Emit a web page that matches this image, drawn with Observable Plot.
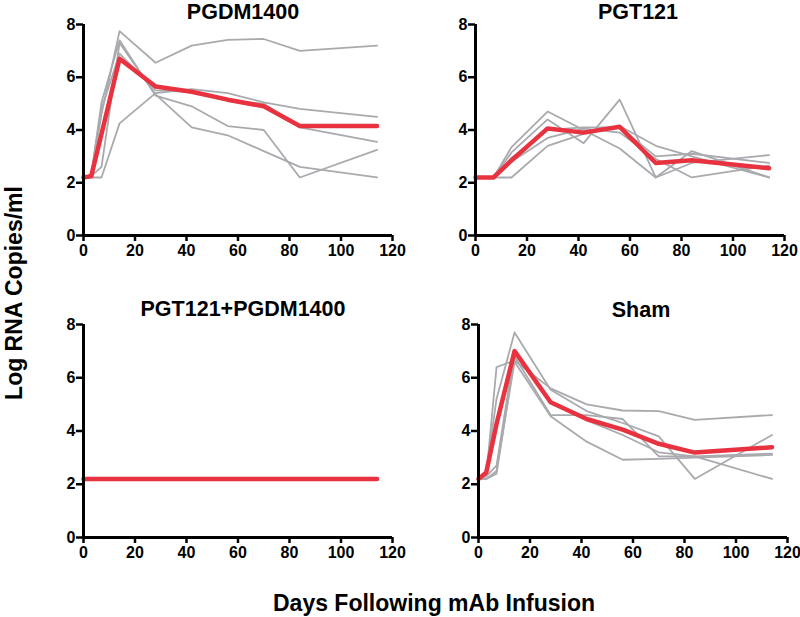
<!DOCTYPE html>
<html>
<head>
<meta charset="utf-8">
<script src="https://cdn.jsdelivr.net/npm/d3@7"></script>
<script src="https://cdn.jsdelivr.net/npm/@observablehq/plot@0.6"></script>
<style>
  html, body { margin: 0; padding: 0; background: #fff; }
  #fig { position: relative; width: 800px; height: 617px; overflow: hidden; font-family: "Liberation Sans", Arial, sans-serif; }
  .panel { position: absolute; }
  .title { position: absolute; font-weight: bold; font-size: 21.5px; line-height: normal; white-space: nowrap; transform: translateX(-50%); color: #000; }
  .axlab { position: absolute; font-weight: bold; font-size: 23px; line-height: normal; white-space: nowrap; transform: translateX(-50%); color: #000; }
  .ylab { position: absolute; font-weight: bold; font-size: 23px; line-height: normal; white-space: nowrap; transform: translate(-50%, -50%) rotate(-90deg); color: #000; }
</style>
</head>
<body>
<div id="fig"></div>
<script>
// ---- data ----
const days = [0, 3, 7, 14, 28, 42, 56, 70, 84, 114];
const xTicks = [0, 20, 40, 60, 80, 100, 120];
const yTicks = [0, 2, 4, 6, 8];
const panelTitles = ["PGDM1400", "PGT121", "PGT121+PGDM1400", "Sham"];
const xLabel = "Days Following mAb Infusion";
const yLabel = "Log RNA Copies/ml";

// PGDM1400
const pgdmA = [2.2, 2.2, 4.6, 7.75, 6.55, 7.2, 7.42, 7.45, 7.0, 7.2];
const pgdmB = [2.2, 2.2, 2.2, 4.25, 5.4, 5.55, 5.4, 5.05, 4.8, 4.5];
const pgdmC = [2.2, 2.3, 5.05, 7.4, 5.3, 4.9, 4.15, 4.0, 2.2, 3.25];
const pgdmD = [2.2, 2.25, 2.6, 7.3, 5.35, 4.1, 3.8, 3.2, 2.6, 2.2];
const pgdmE = [2.2, 2.3, 4.8, 6.9, 5.5, 5.45, 5.1, 5.0, 4.1, 3.55];
const pgdmMean = [2.2, 2.25, 3.85, 6.7, 5.65, 5.45, 5.15, 4.9, 4.15, 4.15];

// PGT121
const pgtA = [2.2, 2.2, 2.2, 3.35, 4.7, 4.0, 3.3, 2.2, 2.75, 3.05];
const pgtB = [2.2, 2.2, 2.2, 3.15, 4.4, 3.5, 5.15, 2.2, 3.2, 2.2];
const pgtC = [2.2, 2.2, 2.2, 2.95, 4.0, 4.1, 4.1, 3.0, 3.1, 2.75];
const pgtD = [2.2, 2.2, 2.2, 2.8, 3.7, 4.05, 3.9, 2.9, 2.2, 2.65];
const pgtE = [2.2, 2.2, 2.2, 2.2, 3.4, 3.85, 4.15, 3.4, 3.0, 2.2];
const pgtMean = [2.2, 2.2, 2.2, 2.85, 4.06, 3.9, 4.12, 2.75, 2.85, 2.55];

// PGT121+PGDM1400
const comboA = [2.2, 2.2, 2.2, 2.2, 2.2, 2.2, 2.2, 2.2, 2.2, 2.2];
const comboB = [2.2, 2.2, 2.2, 2.2, 2.2, 2.2, 2.2, 2.2, 2.2, 2.2];
const comboC = [2.2, 2.2, 2.2, 2.2, 2.2, 2.2, 2.2, 2.2, 2.2, 2.2];
const comboD = [2.2, 2.2, 2.2, 2.2, 2.2, 2.2, 2.2, 2.2, 2.2, 2.2];
const comboMean = [2.2, 2.2, 2.2, 2.2, 2.2, 2.2, 2.2, 2.2, 2.2, 2.2];

// Sham
const shamA = [2.2, 2.3, 6.4, 6.65, 5.6, 5.0, 4.77, 4.75, 4.42, 4.6];
const shamB = [2.2, 2.45, 5.2, 7.7, 5.55, 4.75, 4.3, 3.8, 2.2, 3.85];
const shamC = [2.2, 2.3, 2.7, 7.0, 5.1, 4.4, 3.85, 3.2, 3.05, 2.2];
const shamD = [2.2, 2.2, 2.4, 6.8, 4.6, 4.6, 4.45, 3.05, 3.05, 3.15];
const shamE = [2.2, 2.2, 2.5, 6.6, 4.55, 3.6, 2.92, 2.95, 3.0, 3.1];
const shamMean = [2.2, 2.44, 4.26, 7.0, 5.08, 4.45, 4.05, 3.52, 3.19, 3.39];

// ---- styling ----
const GRAY = "#a9aaae";
const RED = "#e8323f";

const panels = [
  {title: panelTitles[0], animals: [pgdmA, pgdmB, pgdmC, pgdmD, pgdmE], mean: pgdmMean,
   left: 0, top: 0, mt: 24, titleX: 243, titleTop: 0},
  {title: panelTitles[1], animals: [pgtA, pgtB, pgtC, pgtD, pgtE], mean: pgtMean,
   left: 392, top: 0, mt: 24, titleX: 638, titleTop: 0},
  {title: panelTitles[2], animals: [comboA, comboB, comboC, comboD], mean: comboMean,
   left: 0, top: 302, mt: 22, titleX: 243, titleTop: 297},
  {title: panelTitles[3], animals: [shamA, shamB, shamC, shamD, shamE], mean: shamMean,
   left: 395, top: 302, mt: 22, titleX: 641, titleTop: 297.5}
];

const fig = document.getElementById("fig");

function toRows(arr, id) {
  return days.map((d, i) => ({day: d, value: arr[i], id}));
}

for (const p of panels) {
  const grayRows = p.animals.flatMap((a, k) => toRows(a, k));
  const meanRows = toRows(p.mean, "mean");
  const chart = Plot.plot({
    width: 400,
    height: 262,
    marginLeft: 83,
    marginRight: 8,
    marginTop: p.mt,
    marginBottom: 27,
    x: {domain: [0, 120], ticks: xTicks},
    y: {domain: [0, 8], ticks: yTicks},
    style: {fontFamily: "'Liberation Sans', Arial, sans-serif", fontSize: "16px", fontWeight: "bold", color: "#000", background: "transparent", overflow: "visible"},
    marks: [
      Plot.axisX({ticks: xTicks, tickSize: 6, tickPadding: 3, strokeWidth: 2.5, label: null, fontSize: 16, fontWeight: "bold"}),
      Plot.axisY({ticks: yTicks, tickSize: 7, tickPadding: 1, strokeWidth: 2.5, label: null, fontSize: 16, fontWeight: "bold"}),
      Plot.line(grayRows, {x: "day", y: "value", z: "id", stroke: GRAY, strokeWidth: 1.8}),
      Plot.line(meanRows, {x: "day", y: "value", stroke: RED, strokeWidth: 4.5}),
      Plot.ruleX([0], {y1: 0, y2: 8, stroke: "#000", strokeWidth: 3}),
      Plot.ruleY([0], {x1: 0, x2: 120, stroke: "#000", strokeWidth: 3})
    ]
  });
  chart.classList.add("panel");
  chart.style.left = p.left + "px";
  chart.style.top = p.top + "px";
  fig.appendChild(chart);

  const t = document.createElement("div");
  t.className = "title";
  t.textContent = p.title;
  t.style.left = p.titleX + "px";
  t.style.top = p.titleTop + "px";
  fig.appendChild(t);
}

const xl = document.createElement("div");
xl.className = "axlab";
xl.textContent = xLabel;
xl.style.left = "434px";
xl.style.top = "590px";
fig.appendChild(xl);

const yl = document.createElement("div");
yl.className = "ylab";
yl.textContent = yLabel;
yl.style.left = "14px";
yl.style.top = "293px";
fig.appendChild(yl);
</script>
</body>
</html>
